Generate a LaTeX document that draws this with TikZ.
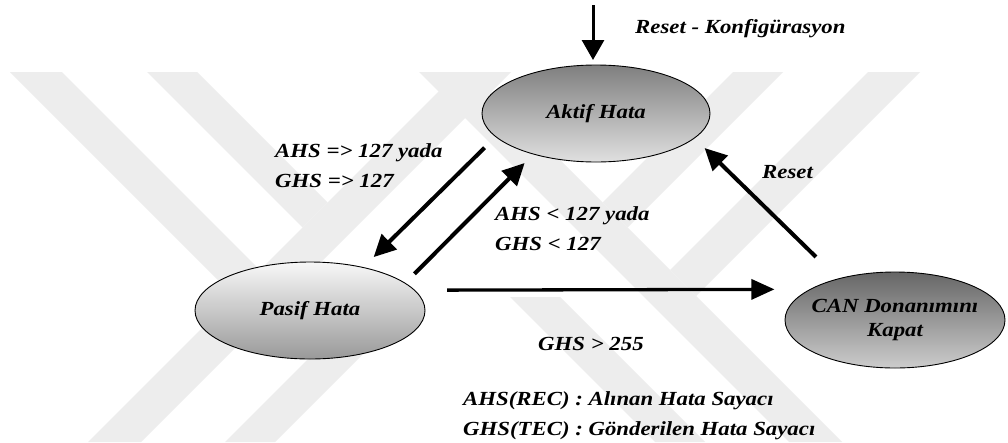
\documentclass[tikz,border=0pt]{standalone}
\usepackage{fontspec}
\setmainfont{Liberation Serif}[FakeStretch=1.14]
\usetikzlibrary{shapes.geometric,arrows.meta}

\definecolor{wmark}{HTML}{EDEDED}

\tikzset{
  state/.style={ellipse, draw=black, line width=0.9pt, inner sep=0pt, outer sep=0pt,
    font=\fontsize{20}{24}\selectfont\bfseries\itshape, align=center},
  lbl/.style={font=\fontsize{20}{24}\selectfont\bfseries\itshape, inner sep=0pt, anchor=base west},
  arr/.style={line width=4pt, -{Triangle[length=22pt,width=21pt]}},
  band/.style={fill=wmark, draw=none}
}

\begin{document}
\begin{tikzpicture}[x=1pt,y=-1pt]
\useasboundingbox (0,0) rectangle (1008,442);
\fill[white] (0,0) rectangle (1008,442);

% faint logo in the background
\fill[band] (10,72) -- (62,72) -- (260,270) -- (234,296) -- cycle;
\fill[band] (147,72) -- (197,72) -- (327.5,202.5) -- (302.5,227.5) -- cycle;
\fill[band] (920,72) -- (868,72) -- (670,270) -- (696,296) -- cycle;
\fill[band] (783,72) -- (733,72) -- (602.5,202.5) -- (627.5,227.5) -- cycle;
\fill[band] (88,442) -- (141,442) -- (511,72) -- (458,72) -- cycle;
\fill[band] (842,442) -- (789,442) -- (419,72) -- (472,72) -- cycle;
\fill[band] (225,442) -- (275,442) -- (420,297) -- (370,297) -- cycle;
\fill[band] (705,442) -- (655,442) -- (510,297) -- (560,297) -- cycle;

% states
\node[state, minimum width=228pt, minimum height=97pt, top color=black!50, bottom color=black!12]
  (aktif) at (596,113.5) {Aktif Hata};
\node[state, minimum width=230pt, minimum height=97pt, top color=black!3, bottom color=black!40]
  (pasif) at (310,310.5) {Pasif Hata};
\node[state, minimum width=220pt, minimum height=96pt, top color=black!60, bottom color=black!20]
  (can) at (895,320) {\makebox[0pt]{CAN Donanımını}\\\makebox[0pt]{Kapat}};

% entry arrow
\coordinate (rk) at (593,5);
\draw[line width=3pt, -{Triangle[length=20pt,width=22pt]}, shorten >=5pt] (rk) -- (rk |- aktif.north);
\node[lbl] (rkl) at (635,33) {Reset - Konfigürasyon};

% transitions
\draw[arr, shorten <=15.8pt, shorten >=14.8pt] (aktif.193.3) -- (pasif.39.5);
\draw[arr, shorten <=13.2pt, shorten >=12.6pt] (pasif.16.8) -- (aktif.213.3);
\draw[arr, shorten <=31.3pt, shorten >=14.3pt] (can.144.9) -- (aktif.346.9);
\draw[line width=3.3pt, -{Triangle[length=23pt,width=20pt]}, shorten <=32.8pt, shorten >=36.1pt]
  (pasif.11.1) -- (can.160.75);

% transition labels
\node[lbl] (l1a) at (275,157) {AHS => 127 yada};
\node[lbl] (l1b) at (275,187) {GHS => 127};
\node[lbl] (l2a) at (495,220) {AHS < 127 yada};
\node[lbl] (l2b) at (495,250) {GHS < 127};
\node[lbl] (l3) at (762,178) {Reset};
\node[lbl] (l4) at (538,350) {GHS > 255};

% legend
\node[lbl] (lg1) at (463,405) {AHS(REC) : Alınan Hata Sayacı};
\node[lbl] (lg2) at (463,435) {GHS(TEC) : Gönderilen Hata Sayacı};
\end{tikzpicture}
\end{document}
